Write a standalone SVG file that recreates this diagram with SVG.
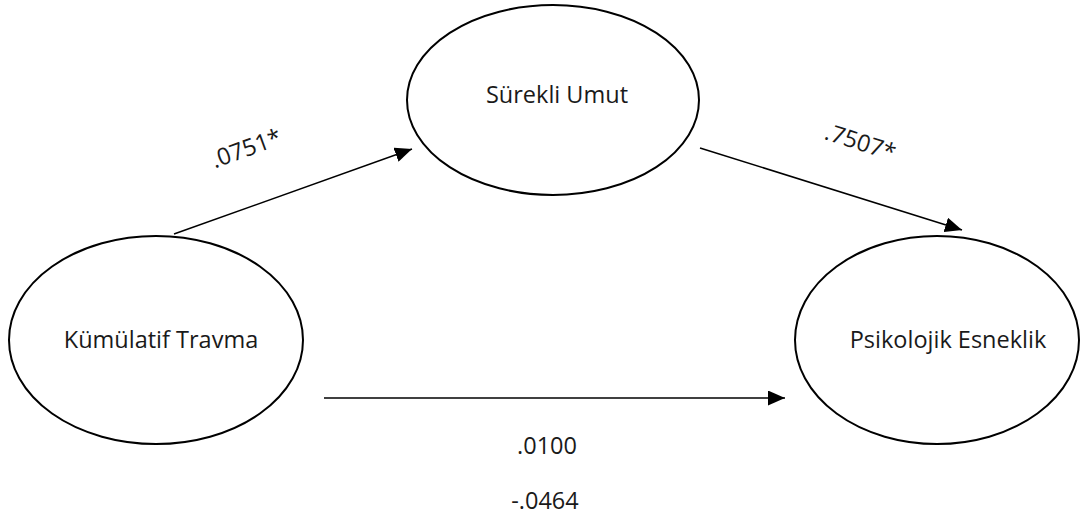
<svg xmlns="http://www.w3.org/2000/svg" width="1081" height="514" viewBox="0 0 1081 514">
  <style>
    .node ellipse { fill: #ffffff; stroke: #000000; stroke-width: 2; }
    .label { font-family: "Open Sans", "Liberation Sans", sans-serif; font-size: 23.5px; fill: #1a1a1a; text-anchor: middle; }
    .coef { font-family: "Open Sans", "Liberation Sans", sans-serif; font-size: 23.5px; fill: #1a1a1a; text-anchor: middle; }
    .edge { stroke: #000000; stroke-width: 1.5; fill: none; marker-end: url(#arrow); }
  </style>
  <defs>
    <marker id="arrow" viewBox="0 0 10 10" refX="10" refY="5" markerWidth="17" markerHeight="15" markerUnits="userSpaceOnUse" orient="auto" preserveAspectRatio="none">
      <path d="M0,0 L10,5 L0,10 z" fill="#000000"/>
    </marker>
  </defs>
  <rect width="1081" height="514" fill="#ffffff"/>

  <g id="connectors">
    <line class="edge" x1="174" y1="234" x2="412" y2="149"/>
    <line class="edge" x1="700" y1="148" x2="962" y2="230"/>
    <line class="edge" x1="324" y1="398" x2="785" y2="398"/>
  </g>

  <g id="node-surekli-umut" class="node">
    <ellipse cx="553" cy="100" rx="146" ry="95"/>
    <text class="label" x="557" y="103">Sürekli Umut</text>
  </g>

  <g id="node-kumulatif-travma" class="node">
    <ellipse cx="156" cy="340" rx="147" ry="104"/>
    <text class="label" x="161" y="348">Kümülatif Travma</text>
  </g>

  <g id="node-psikolojik-esneklik" class="node">
    <ellipse cx="937" cy="340" rx="142" ry="104"/>
    <text class="label" x="948" y="348">Psikolojik Esneklik</text>
  </g>

  <g id="coefficients">
    <text class="coef" transform="translate(249,156) rotate(-20)">.0751*</text>
    <text class="coef" transform="translate(858,150) rotate(18)">.7507*</text>
    <text class="coef" x="547" y="454">.0100</text>
    <text class="coef" x="545" y="509">-.0464</text>
  </g>
</svg>
